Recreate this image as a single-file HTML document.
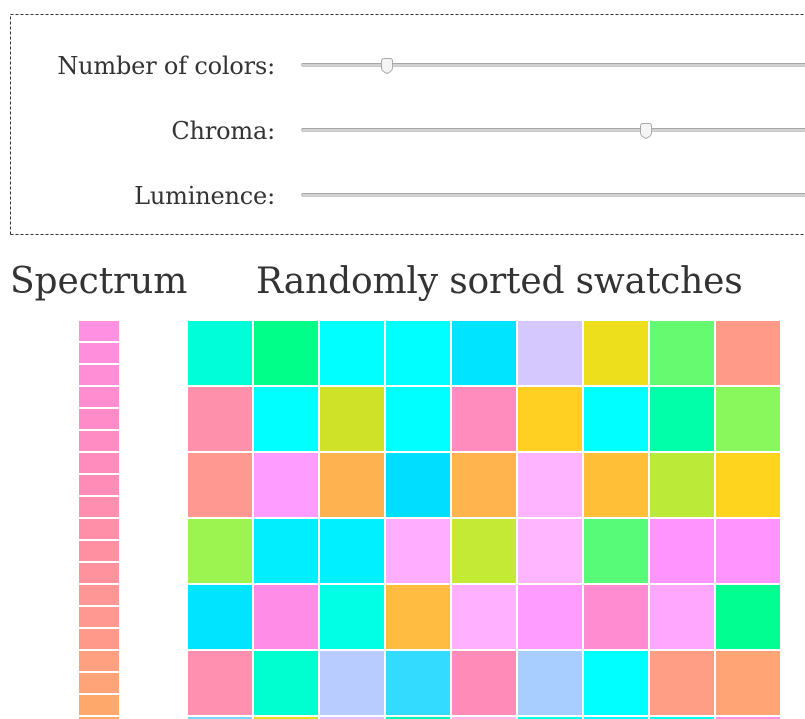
<!DOCTYPE html>
<html lang="en">
<head>
<meta charset="utf-8">
<title>Randomly sorted swatches</title>
<style>
html,body{margin:0;padding:0;background:#fff;width:805px;height:719px;overflow:hidden;}
#page{position:absolute;left:0;top:0;width:805px;height:719px;overflow:hidden;background:#fff;font-family:"DejaVu Serif",serif;color:#333;}
#controls{position:absolute;left:0;top:0;width:805px;height:240px;}
.label{position:absolute;width:265px;text-align:right;font-size:24px;line-height:28px;white-space:nowrap;letter-spacing:-0.18px;}
.track{position:absolute;left:301px;width:504px;height:4px;border-radius:2px 0 0 2px;box-sizing:border-box;background:#d2d2d2;border-top:1px solid #a6a6a6;border-bottom:1px solid #c8c8c8;}
.thumb{position:absolute;width:12px;height:16px;}
h2{position:absolute;margin:0;font-weight:normal;font-size:36px;line-height:42px;white-space:nowrap;}
.cell{position:absolute;}
</style>
</head>
<body>
<div id="page">
<svg id="controls" viewBox="0 0 805 240"><path d="M10.5 234.5V14.5H805M10.5 234.5H805" fill="none" stroke="#333" stroke-width="1" stroke-dasharray="3 2" shape-rendering="crispEdges"/></svg>

<div class="label" style="left:10px;top:52px">Number of colors:</div>
<div class="track" style="top:63px"></div>
<svg class="thumb" style="left:381px;top:58px" viewBox="0 0 12 16"><path d="M.5 3Q.5.5 3 .5H9Q11.5.5 11.5 3V10Q11.5 13 6 15.5Q.5 13 .5 10Z" fill="#f4f4f4" stroke="#aaa"/></svg>

<div class="label" style="left:10px;top:117px">Chroma:</div>
<div class="track" style="top:128px"></div>
<svg class="thumb" style="left:640px;top:123px" viewBox="0 0 12 16"><path d="M.5 3Q.5.5 3 .5H9Q11.5.5 11.5 3V10Q11.5 13 6 15.5Q.5 13 .5 10Z" fill="#f4f4f4" stroke="#aaa"/></svg>

<div class="label" style="left:10px;top:182px">Luminence:</div>
<div class="track" style="top:193px"></div>

<h2 style="left:10px;top:261px;letter-spacing:-0.12px">Spectrum</h2>
<h2 style="left:256px;top:261px;letter-spacing:-0.17px">Randomly sorted swatches</h2>

<div id="spectrum"></div>
<div id="swatches"></div>
</div>

<script>
var spectrumColors = ["#ff90e2","#ff8fdc","#ff8ed6","#ff8dcf","#ff8cc8","#ff8cc2","#ff8cbc","#ff8cb6","#ff8eb0","#ff8ea8","#ff90a2","#ff929c","#ff9696","#ff9890","#ff9a8a","#ffa080","#ffa478","#ffa86c","#ffa868"];
var swatchRow1 = ["#00ffd8","#00ff88","#00ffff","#00ffff","#00e4ff","#d4c8ff","#eedf1c","#66fa70","#ff9a88"];
var swatchRow2 = ["#ff90ac","#00ffff","#d0e228","#00ffff","#ff8cbc","#ffcf22","#00ffff","#00ffa8","#88f85c"];
var swatchRow3 = ["#ff9890","#ff9cff","#ffb250","#00deff","#ffb44e","#ffb4ff","#ffc038","#bcea38","#ffd41e"];
var swatchRow4 = ["#9cf450","#00eeff","#00f0ff","#ffaeff","#c4ea36","#ffb6ff","#58fb78","#ff94ff","#ff94ff"];
var swatchRow5 = ["#00e4ff","#ff8ce6","#00ffe4","#ffbc40","#ffb0ff","#ff9cff","#ff8cd0","#ffa6ff","#00ff90"];
var swatchRow6 = ["#ff90b0","#00ffd0","#b8ccff","#33dcff","#ff8cb8","#a8ceff","#00ffff","#ff9e84","#ffa474"];
var swatchRow7 = ["#80d4ff","#e4e020","#e0c0ff","#00f8b8","#ffb8f0","#00ffee","#00ffff","#00fff0","#ff90e0"];
var swatchRows = [swatchRow1,swatchRow2,swatchRow3,swatchRow4,swatchRow5,swatchRow6,swatchRow7];

function spectrumY(i){ return 321 + i * 22; }
function gridX(c){ return 188 + c * 66; }
function gridY(r){ return 321 + r * 66; }

var specHost = document.getElementById('spectrum');
spectrumColors.forEach(function(color, i){
  var el = document.createElement('div');
  el.className = 'cell';
  el.style.left = '79px';
  el.style.top = spectrumY(i) + 'px';
  el.style.width = '40px';
  el.style.height = Math.min(20, 719 - spectrumY(i)) + 'px';
  el.style.background = color;
  
  
  specHost.appendChild(el);
});

var gridHost = document.getElementById('swatches');
swatchRows.forEach(function(row, r){
  row.forEach(function(color, c){
    var el = document.createElement('div');
    el.className = 'cell';
    el.style.left = gridX(c) + 'px';
    el.style.top = gridY(r) + 'px';
    el.style.width = '64px';
    el.style.height = Math.min(64, 719 - gridY(r)) + 'px';
    el.style.background = color;
    
    
    gridHost.appendChild(el);
  });
});
</script>
</body>
</html>
